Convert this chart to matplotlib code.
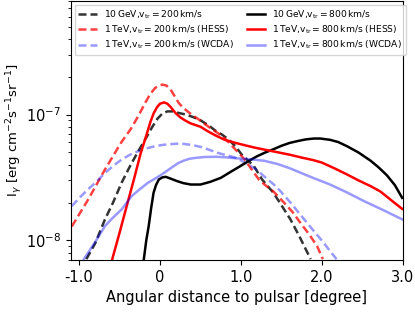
import matplotlib
matplotlib.use('Agg')
import matplotlib.pyplot as plt
import numpy as np

# angular profiles, intensity in units of 1e-8 erg cm^-2 s^-1 sr^-1
x_b200 = [-0.91, -0.80, -0.68, -0.58, -0.475, -0.37, -0.27, -0.18, -0.10, -0.03, 0.03, 0.09, 0.16, 0.23, 0.32, 0.40,
          0.50, 0.60, 0.69, 0.77, 0.85, 0.93, 1.01, 1.08, 1.16, 1.26, 1.33, 1.40, 1.50, 1.61, 1.72, 1.82, 1.86]
I_b200 = [0.71, 0.95, 1.47, 2.0, 2.87, 3.9, 5.1, 6.4, 7.9, 9.3, 10.2, 10.6, 10.6, 10.3, 10.0, 9.6,
          9.0, 8.2, 7.4, 6.9, 6.3, 5.6, 4.8, 4.35, 3.89, 3.05, 2.7, 2.39, 1.9, 1.47, 1.08, 0.80, 0.71]

x_r200 = [-1.09, -0.89, -0.68, -0.48, -0.36, -0.27, -0.18, -0.12, -0.06, 0.0, 0.03, 0.08, 0.13, 0.18, 0.23, 0.28,
          0.34, 0.41, 0.48, 0.60, 0.69, 0.77, 0.85, 0.93, 1.00, 1.06, 1.14, 1.22, 1.30, 1.40, 1.53, 1.63, 1.73,
          1.84, 1.94, 2.01]
I_r200 = [1.29, 2.1, 3.66, 6.0, 7.7, 9.7, 12.5, 14.6, 16.3, 17.1, 17.3, 17.0, 15.8, 14.0, 12.4, 11.4,
          10.6, 9.8, 9.13, 8.0, 7.3, 6.73, 6.0, 5.28, 4.75, 4.26, 3.6, 3.05, 2.75, 2.45, 2.0, 1.7, 1.39,
          1.12, 0.90, 0.71]

x_w200 = [-1.09, -0.99, -0.89, -0.78, -0.68, -0.58, -0.475, -0.37, -0.27, -0.16, -0.06, 0.04, 0.13, 0.21, 0.29,
          0.40, 0.50, 0.60, 0.71, 0.82, 0.93, 1.05, 1.18, 1.28, 1.40, 1.49, 1.61, 1.73, 1.87, 2.02, 2.10, 2.18]
I_w200 = [1.87, 2.2, 2.54, 2.95, 3.44, 3.9, 4.39, 4.8, 5.11, 5.4, 5.61, 5.75, 5.82, 5.87, 5.85,
          5.72, 5.54, 5.27, 4.97, 4.75, 4.55, 4.15, 3.7, 3.25, 2.8, 2.45, 2.0, 1.61, 1.25, 0.96, 0.82, 0.71]

x_b800 = [-0.20, -0.17, -0.14, -0.11, -0.08, -0.05, -0.015, 0.03, 0.07, 0.13, 0.21, 0.29, 0.38, 0.50, 0.62, 0.75,
          0.87, 0.99, 1.10, 1.20, 1.30, 1.40, 1.50, 1.60, 1.69, 1.80, 1.90, 1.98, 2.10, 2.20, 2.31, 2.45, 2.60,
          2.70, 2.80, 2.90, 2.99]
I_b800 = [0.71, 1.0, 1.30, 1.8, 2.39, 2.75, 3.05, 3.17, 3.2, 3.1, 2.96, 2.85, 2.78, 2.78, 2.92, 3.14,
          3.5, 3.89, 4.3, 4.67, 5.0, 5.3, 5.65, 5.95, 6.14, 6.35, 6.45, 6.45, 6.3, 6.05, 5.6, 5.0, 4.3,
          3.8, 3.3, 2.75, 2.18]

x_r800 = [-0.59, -0.50, -0.40, -0.32, -0.24, -0.17, -0.12, -0.08, -0.035, 0.0, 0.05, 0.09, 0.13, 0.19, 0.25, 0.32,
          0.38, 0.50, 0.60, 0.69, 0.80, 0.93, 1.05, 1.18, 1.30, 1.43, 1.60, 1.75, 1.89, 2.00, 2.15, 2.31, 2.45,
          2.60, 2.72, 2.85, 2.99]
I_r800 = [0.71, 1.15, 2.0, 3.1, 4.9, 6.8, 8.7, 10.2, 11.5, 12.2, 12.5, 12.2, 11.5, 10.3, 9.5, 8.9,
          8.5, 8.0, 7.3, 6.8, 6.3, 5.96, 5.7, 5.44, 5.25, 5.05, 4.8, 4.55, 4.35, 4.15, 3.75, 3.34, 3.0,
          2.7, 2.45, 2.1, 1.78]

x_w800 = [-0.94, -0.86, -0.78, -0.68, -0.58, -0.475, -0.35, -0.25, -0.15, -0.06, 0.02, 0.14, 0.22, 0.29, 0.36,
          0.44, 0.55, 0.69, 0.80, 0.93, 1.10, 1.28, 1.45, 1.60, 1.75, 1.90, 2.10, 2.30, 2.52, 2.75, 2.99]
I_w800 = [0.71, 0.85, 1.02, 1.30, 1.52, 1.76, 2.25, 2.55, 2.87, 3.1, 3.34, 3.78, 4.1, 4.3, 4.45,
          4.53, 4.6, 4.62, 4.58, 4.5, 4.42, 4.3, 4.05, 3.75, 3.42, 3.12, 2.78, 2.42, 2.05, 1.75, 1.47]

xticks = [-1, 0, 1, 2, 3]
xticklabels = ['-1.0', '0', '1.0', '2.0', '3.0']

labels = [r'10$\,$GeV,v$_{\rm tr}$$\,$=$\,$200$\,$km/s',
          r'1$\,$TeV,v$_{\rm tr}$$\,$=$\,$200$\,$km/s (HESS)',
          r'1$\,$TeV,v$_{\rm tr}$$\,$=$\,$200$\,$km/s (WCDA)',
          r'10$\,$GeV,v$_{\rm tr}$$\,$=$\,$800$\,$km/s',
          r'1$\,$TeV,v$_{\rm tr}$$\,$=$\,$800$\,$km/s (HESS)',
          r'1$\,$TeV,v$_{\rm tr}$$\,$=$\,$800$\,$km/s (WCDA)']

fig = plt.figure(figsize=(4.15, 3.12), dpi=100)
ax = fig.add_axes([0.171, 0.167, 0.800, 0.830])

ds = (0, (3.2, 1.6))
lw = 1.8
s = 1e-8
ax.plot(x_b200, np.array(I_b200)*s, color='k', alpha=0.8, ls=ds, lw=lw, label=labels[0])
ax.plot(x_r200, np.array(I_r200)*s, color='red', alpha=0.75, ls=ds, lw=lw, label=labels[1])
ax.plot(x_w200, np.array(I_w200)*s, color='blue', alpha=0.4, ls=ds, lw=lw, label=labels[2])
ax.plot(x_b800, np.array(I_b800)*s, color='k', lw=lw, label=labels[3])
ax.plot(x_r800, np.array(I_r800)*s, color='red', lw=lw, label=labels[4])
ax.plot(x_w800, np.array(I_w800)*s, color='blue', alpha=0.4, lw=lw, label=labels[5])

ax.set_yscale('log')
ax.set_xlim(-1.1, 3.0)
ax.set_ylim(7e-9, 8e-7)
ax.set_xticks(xticks)
ax.set_xticklabels(xticklabels)
ax.tick_params(labelsize=10.5)
ax.set_xlabel('Angular distance to pulsar [degree]', fontsize=10.5)
ax.set_ylabel(r'I$_\gamma$ [erg cm$^{-2}$s$^{-1}$sr$^{-1}$]', fontsize=9.5, labelpad=1)
ax.legend(loc='upper left', ncol=2, fontsize=6.6, columnspacing=1.4,
          handlelength=2.0, borderaxespad=0.4, labelspacing=0.3)

fig.savefig('out.png', dpi=100)
